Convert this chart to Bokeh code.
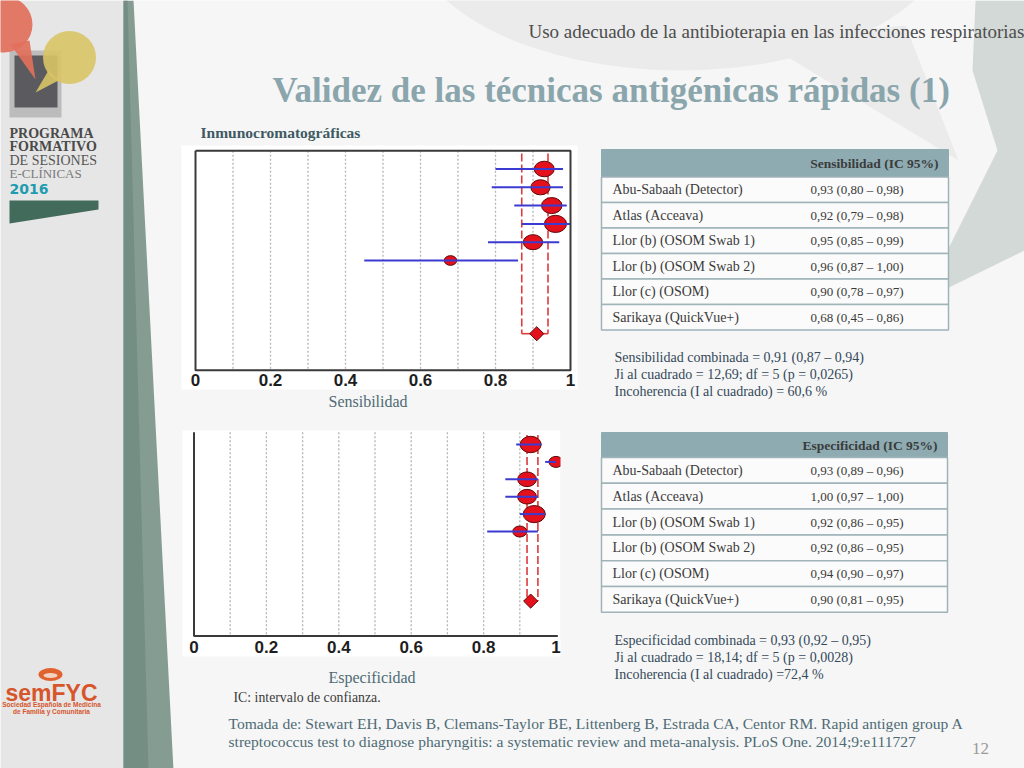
import math
from bokeh.plotting import figure
from bokeh.models import Range1d
from bokeh.core.properties import value
from bokeh.embed import file_html
from bokeh.resources import INLINE

# ------------------------------------------------------------------ data
studies = ["Abu-Sabaah (Detector)", "Atlas (Acceava)", "Llor (b) (OSOM Swab 1)",
           "Llor (b) (OSOM Swab 2)", "Llor (c) (OSOM)", "Sarikaya (QuickVue+)"]

sens_est = [0.93, 0.92, 0.95, 0.96, 0.90, 0.68]
sens_lo = [0.80, 0.79, 0.85, 0.87, 0.78, 0.45]
sens_hi = [0.98, 0.98, 0.99, 1.00, 0.97, 0.86]
sens_weight = [18, 17, 19, 22, 17, 7]
sens_pooled = [0.91, 0.87, 0.94]
sens_chi = "Ji al cuadrado = 12,69; df = 5 (p = 0,0265)"
sens_incoh = "Incoherencia (I al cuadrado) = 60,6 %"

spec_est = [0.93, 1.00, 0.92, 0.92, 0.94, 0.90]
spec_lo = [0.89, 0.97, 0.86, 0.86, 0.90, 0.81]
spec_hi = [0.96, 1.00, 0.95, 0.95, 0.97, 0.95]
spec_weight = [20, 9, 16, 16, 22, 9]
spec_pooled = [0.93, 0.92, 0.95]
spec_chi = "Ji al cuadrado = 18,14; df = 5 (p = 0,0028)"
spec_incoh = "Incoherencia (I al cuadrado) =72,4 %"

x_ticks = [0, 0.2, 0.4, 0.6, 0.8, 1]
x_tick_labels = ["0", "0.2", "0.4", "0.6", "0.8", "1"]
grid_vals = [0.1, 0.2, 0.3, 0.4, 0.5, 0.6, 0.7, 0.8, 0.9]

header_txt = "Uso adecuado de la antibioterapia en las infecciones respiratorias"
title_txt = "Validez de las técnicas antigénicas rápidas (1)"
subtitle_txt = "Inmunocromatográficas"
ref_lines = ["Tomada de: Stewart EH, Davis B, Clemans-Taylor BE, Littenberg B, Estrada CA, Centor RM. Rapid antigen group A",
             "streptococcus test to diagnose pharyngitis: a systematic review and meta-analysis. PLoS One. 2014;9:e111727"]

# ------------------------------------------------------------------ canvas (slide pixel coordinates)
BG = "#f6f6f6"
SERIF = value("Liberation Serif")
SANS = value("Liberation Sans")
XMAX, YMAX = 1024, 768

p = figure(width=XMAX, height=YMAX, x_range=Range1d(0, XMAX), y_range=Range1d(YMAX, 0),
           x_axis_type=None, y_axis_type=None, output_backend="svg",
           toolbar_location=None, min_border=0)
p.grid.visible = False
p.outline_line_color = None
p.background_fill_color = BG
p.border_fill_color = BG


def txt(x, y, s, size, color, font=SERIF, style="normal", align="left", baseline="middle"):
    p.text(x=[x], y=[y], text=[s], text_font=font, text_font_size=f"{size}px",
           text_color=color, text_font_style=style, text_align=align, text_baseline=baseline)


# background shapes
p.ellipse(x=[680], y=[-70], width=[540], height=[280], fill_color="#ebebeb", line_color=None)
p.patch([760, 958, 905], [40, 160, 25], fill_color="#ebebeb", line_color=None)
p.patch([975, 1024, 1024, 922, 997, 972], [0, 0, 250, 300, 150, 70], fill_color="#d3d9d7", line_color=None)

# left sidebar
p.quad(left=[0], right=[123], top=[0], bottom=[770], fill_color="#e6e6e6", line_color=None)
p.patch([123, 133, 173, 123], [0, 0, 770, 770], fill_color="#859c93", line_color=None)
p.patch([123, 127, 148, 123], [0, 0, 770, 770], fill_color="#748e84", line_color=None)

# logo: tablet + speech bubbles
p.quad(left=[9], right=[61], top=[50], bottom=[117], fill_color="#bcbcbc", line_color=None)
p.quad(left=[14], right=[57], top=[55], bottom=[107], fill_color="#5b5a5f", line_color=None)
p.ellipse(x=[4], y=[24], width=[56], height=[56], fill_color="#e2705c", fill_alpha=0.92, line_color=None)
p.patch([10, 35, 29], [44, 79, 40], fill_color="#e2705c", fill_alpha=0.92, line_color=None)
p.ellipse(x=[69], y=[57], width=[53], height=[53], fill_color="#d8c466", fill_alpha=0.9, line_color=None)
p.patch([48, 35, 58], [70, 92, 80], fill_color="#d8c466", fill_alpha=0.9, line_color=None)

txt(9, 133, "PROGRAMA", 14, "#4a4a4a", style="bold")
txt(9, 146, "FORMATIVO", 14, "#4a4a4a", style="bold")
txt(9, 160, "DE SESIONES", 14, "#555555")
txt(9, 173, "E-CLÍNICAS", 13, "#7a7a7a")
txt(9, 188, "2016", 14, "#1d9bb0", font=value("DejaVu Sans"), style="bold")
p.patch([9, 98, 98, 9], [200, 200, 209, 223], fill_color="#436b5c", line_color=None)

# semFYC logo
p.ellipse(x=[50], y=[674], width=[24], height=[13], fill_color="#e0622f", line_color=None)
p.ellipse(x=[50], y=[675], width=[14], height=[5], fill_color="#f3d2c2", line_color=None)
txt(51, 692, "semFYC", 23, "#d7552b", font=SANS, style="bold", align="center")
txt(51, 704, "Sociedad Española de Medicina", 6.5, "#d7552b", font=SANS, style="bold", align="center")
txt(51, 711, "de Familia y Comunitaria", 6.5, "#d7552b", font=SANS, style="bold", align="center")

# header / title
txt(528, 31, header_txt, 19, "#4d4d4d")
txt(272, 90, title_txt, 35, "#8aa5ac", style="bold")
txt(200, 132, subtitle_txt, 15.5, "#3f5a63", style="bold")


# ------------------------------------------------------------------ forest plots
def forest(name, px0, px1, row0, drow, est, lo, hi, wts, pooled, top_row, cropped, lab_off):
    xr = f"{name}_x"
    yr = f"{name}_y"
    scale = px1 - px0
    p.extra_x_ranges[xr] = Range1d((0 - px0) / scale, (XMAX - px0) / scale)
    p.extra_y_ranges[yr] = Range1d((YMAX - row0) / drow, (0 - row0) / drow)
    n = len(est)
    rows = list(range(1, n + 1))
    prow = n + 4
    brow = n + 6
    kw = dict(x_range_name=xr, y_range_name=yr)
    # grid (dotted)
    p.segment(x0=grid_vals, y0=[top_row] * len(grid_vals), x1=grid_vals, y1=[brow] * len(grid_vals),
              line_color="#b4b4b4", line_dash="2 2", line_width=1.3, **kw)
    # pooled CI lines
    p.segment(x0=pooled[1:], y0=[top_row + 0.15] * 2, x1=pooled[1:], y1=[prow] * 2,
              line_color="#df3b3b", line_dash="8 3", line_width=1.6, **kw)
    p.segment(x0=[pooled[1]], y0=[prow], x1=[pooled[2]], y1=[prow],
              line_color="#df3b3b", line_width=1.6, **kw)
    # study markers
    sizes = [4.7 * math.sqrt(w) for w in wts]
    p.ellipse(x=est, y=rows, width=sizes, height=[0.78 * s for s in sizes],
              width_units="screen", height_units="screen",
              fill_color="#e4101c", line_color="#5c0a0a", line_width=1, **kw)
    p.segment(x0=lo, y0=rows, x1=hi, y1=rows, line_color="#3b3bd2", line_width=2, **kw)
    # pooled diamond
    p.scatter(x=[pooled[0]], y=[prow], marker="square", angle=math.pi / 4, size=10,
              fill_color="#e4101c", line_color="#5c0a0a", line_width=1, **kw)
    # frame / axes
    if not cropped:
        p.line(x=[0, 1, 1, 0, 0], y=[top_row, top_row, brow, brow, top_row],
               line_color="#3a3a3a", line_width=2, **kw)
    else:
        p.line(x=[0, 0, 1.005], y=[top_row, brow, brow], line_color="#3a3a3a", line_width=2, **kw)
    p.text(x=x_ticks, y=[brow] * len(x_ticks), text=x_tick_labels, text_font=SANS,
           text_font_size="17px", text_font_style="bold", text_color="#1e1e1e",
           text_align="center", text_baseline="middle", y_offset=lab_off, **kw)


# white image areas
p.quad(left=[181], right=[577], top=[145], bottom=[389], fill_color="#ffffff", line_color=None)
p.quad(left=[182], right=[560], top=[430], bottom=[656], fill_color="#ffffff", line_color=None)

forest("sens", 195, 570, 150.2, 18.3, sens_est, sens_lo, sens_hi, sens_weight, sens_pooled, 0.0, False, 9.5)
forest("spec", 193.5, 555.5, 426.6, 17.4, spec_est, spec_lo, spec_hi, spec_weight, spec_pooled, 0.3, True, 11)

# crop of the lower picture at its right edge
p.quad(left=[560], right=[598], top=[428], bottom=[640], fill_color=BG, line_color=None)

txt(328, 401, "Sensibilidad", 16, "#4f6b74")
txt(328, 677, "Especificidad", 16, "#4f6b74")
txt(233, 697, "IC: intervalo de confianza.", 13.8, "#3c3c3c")
txt(228, 723, ref_lines[0], 15.6, "#4e6b75")
txt(228, 741, ref_lines[1], 15.6, "#4e6b75")
txt(980, 748, "12", 17, "#9a9a9a", align="center")


# ------------------------------------------------------------------ tables
def fmt(v):
    return f"{v:.2f}".replace(".", ",")


def table(left, right, top, head_h, row_h, head_label, est, lo, hi, pooled, label, chi, incoh, stat_y):
    n = len(studies)
    p.quad(left=[left], right=[right], top=[top], bottom=[top + head_h],
           fill_color="#8eabb2", line_color="#8eabb2", line_width=1)
    tops = [top + head_h + i * row_h for i in range(n)]
    p.quad(left=[left] * n, right=[right] * n, top=tops, bottom=[t + row_h for t in tops],
           fill_color="#fbfbfb", line_color="#9fb3b8", line_width=1.5)
    txt(right - 10, top + head_h / 2, head_label, 13.5, "#3b3b3b", style="bold", align="right")
    mids = [t + row_h / 2 for t in tops]
    p.text(x=[left + 11] * n, y=mids, text=studies, text_font=SERIF, text_font_size="14px",
           text_color="#3a3a3a", text_baseline="middle")
    vals = [f"{fmt(e)} ({fmt(a)} – {fmt(b)})" for e, a, b in zip(est, lo, hi)]
    p.text(x=[left + 209] * n, y=mids, text=vals, text_font=SERIF, text_font_size="13px",
           text_color="#3a3a3a", text_baseline="middle")
    lines = [f"{label} combinada = {fmt(pooled[0])} ({fmt(pooled[1])} – {fmt(pooled[2])})", chi, incoh]
    p.text(x=[left + 13] * 3, y=[stat_y + 17 * i for i in range(3)], text=lines, text_font=SERIF,
           text_font_size="14px", text_color="#34495a", text_baseline="middle")


table(601, 948, 149, 27.5, 25.5, "Sensibilidad (IC 95%)", sens_est, sens_lo, sens_hi,
      sens_pooled, "Sensibilidad", sens_chi, sens_incoh, 357)
table(601, 947, 432, 25, 25.8, "Especificidad (IC 95%)", spec_est, spec_lo, spec_hi,
      spec_pooled, "Especificidad", spec_chi, spec_incoh, 640)

open("out.html", "w").write(file_html(p, INLINE))
